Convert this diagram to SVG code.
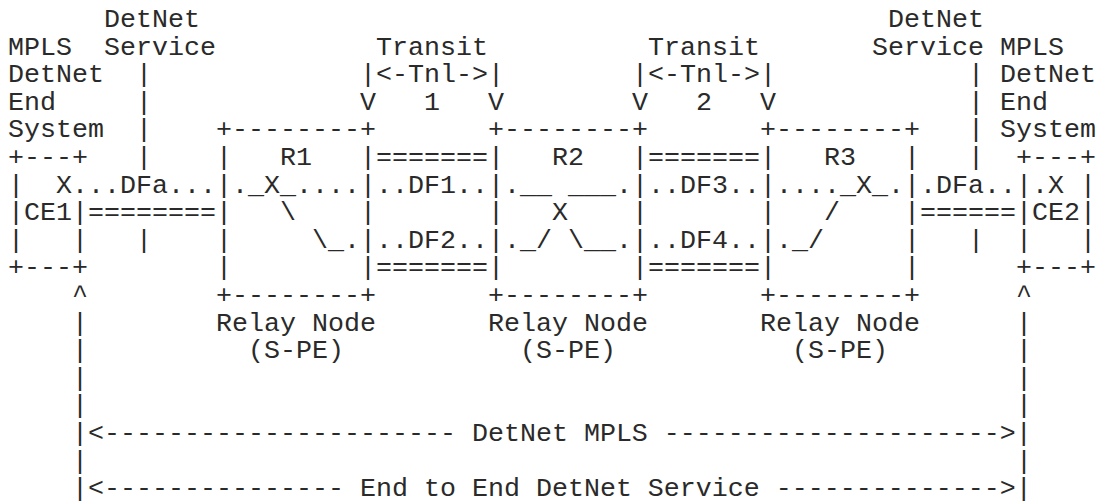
<svg xmlns="http://www.w3.org/2000/svg" width="1104" height="502" viewBox="0 0 1104 502" xml:space="preserve">
  <style>
    /* monospace grid: 16px per column, 27.6px per row */
    text { font-family: "Courier New", "Liberation Mono", monospace; font-size: 26.66px; fill: #2a2a2a; white-space: pre; }
  </style>
  <rect width="1104" height="502" fill="#fff"/>

  <!-- end-system / service labels and service bars -->
  <g id="labels">
    <text x="104" y="27">DetNet</text>
    <text x="888" y="27">DetNet</text>
    <text x="8" y="54.6">MPLS</text>
    <text x="104" y="54.6">Service</text>
    <text x="872" y="54.6">Service</text>
    <text x="1000" y="54.6">MPLS</text>
    <text x="8" y="82.2">DetNet</text>
    <text x="1000" y="82.2">DetNet</text>
    <text x="8" y="109.8">End</text>
    <text x="1000" y="109.8">End</text>
    <text x="8" y="137.4">System</text>
    <text x="1000" y="137.4">System</text>
    <!-- service bars -->
    <text x="136" y="82.2">|</text>
    <text x="136" y="109.8">|</text>
    <text x="136" y="137.4">|</text>
    <text x="136" y="165">|</text>
    <text x="136" y="247.8">|</text>
    <text x="968" y="82.2">|</text>
    <text x="968" y="109.8">|</text>
    <text x="968" y="137.4">|</text>
    <text x="968" y="165">|</text>
    <text x="968" y="247.8">|</text>
  </g>

  <!-- transit tunnel labels -->
  <g id="tunnels">
    <text x="376" y="54.6">Transit</text>
    <text x="648" y="54.6">Transit</text>
    <text x="360" y="82.2">|&lt;-Tnl-&gt;|</text>
    <text x="632" y="82.2">|&lt;-Tnl-&gt;|</text>
    <text x="360" y="109.8">V   1   V</text>
    <text x="632" y="109.8">V   2   V</text>
  </g>

  <!-- CE1 end system -->
  <g id="ce1">
    <text x="8" y="165">+---+</text>
    <text x="8" y="192.6">|</text>
    <text x="56" y="192.6">X</text>
    <text x="8" y="220.2">|CE1|</text>
    <text x="8" y="247.8">|   |</text>
    <text x="8" y="275.4">+---+</text>
  </g>

  <!-- R1 relay node -->
  <g id="r1">
    <text x="216" y="137.4">+--------+</text>
    <text x="216" y="165">|   R1   |</text>
    <text x="216" y="192.6">|._X_....|</text>
    <text x="216" y="220.2">|   \    |</text>
    <text x="216" y="247.8">|     \_.|</text>
    <text x="216" y="275.4">|        |</text>
    <text x="216" y="303">+--------+</text>
    <text x="216" y="330.6">Relay Node</text>
    <text x="248" y="358.2">(S-PE)</text>
  </g>

  <!-- R2 relay node -->
  <g id="r2">
    <text x="488" y="137.4">+--------+</text>
    <text x="488" y="165">|   R2   |</text>
    <text x="488" y="192.6">|.__ ___.|</text>
    <text x="488" y="220.2">|   X    |</text>
    <text x="488" y="247.8">|._/ \__.|</text>
    <text x="488" y="275.4">|        |</text>
    <text x="488" y="303">+--------+</text>
    <text x="488" y="330.6">Relay Node</text>
    <text x="520" y="358.2">(S-PE)</text>
  </g>

  <!-- R3 relay node -->
  <g id="r3">
    <text x="760" y="137.4">+--------+</text>
    <text x="760" y="165">|   R3   |</text>
    <text x="760" y="192.6">|...._X_.|</text>
    <text x="760" y="220.2">|   /    |</text>
    <text x="760" y="247.8">|._/     |</text>
    <text x="760" y="275.4">|        |</text>
    <text x="760" y="303">+--------+</text>
    <text x="760" y="330.6">Relay Node</text>
    <text x="792" y="358.2">(S-PE)</text>
  </g>

  <!-- CE2 end system -->
  <g id="ce2">
    <text x="1016" y="165">+---+</text>
    <text x="1016" y="192.6">|.X |</text>
    <text x="1016" y="220.2">|CE2|</text>
    <text x="1016" y="247.8">|   |</text>
    <text x="1016" y="275.4">+---+</text>
  </g>

  <!-- flows, links and end-to-end spans -->
  <g id="connectors">
    <text x="72" y="192.6">...DFa...</text>
    <text x="88" y="220.2">========</text>
    <text x="376" y="165">=======</text>
    <text x="376" y="192.6">..DF1..</text>
    <text x="376" y="247.8">..DF2..</text>
    <text x="376" y="275.4">=======</text>
    <text x="648" y="165">=======</text>
    <text x="648" y="192.6">..DF3..</text>
    <text x="648" y="247.8">..DF4..</text>
    <text x="648" y="275.4">=======</text>
    <text x="920" y="192.6">.DFa..</text>
    <text x="920" y="220.2">======</text>
    <text x="72" y="303">^</text>
    <text x="1016" y="303">^</text>
    <text x="72" y="330.6">|</text>
    <text x="72" y="358.2">|</text>
    <text x="72" y="385.8">|</text>
    <text x="72" y="413.4">|</text>
    <text x="72" y="468.6">|</text>
    <text x="1016" y="330.6">|</text>
    <text x="1016" y="358.2">|</text>
    <text x="1016" y="385.8">|</text>
    <text x="1016" y="413.4">|</text>
    <text x="1016" y="468.6">|</text>
    <text x="72" y="441">|&lt;---------------------- DetNet MPLS ---------------------&gt;|</text>
    <text x="72" y="496.2">|&lt;--------------- End to End DetNet Service --------------&gt;|</text>
  </g>
</svg>
